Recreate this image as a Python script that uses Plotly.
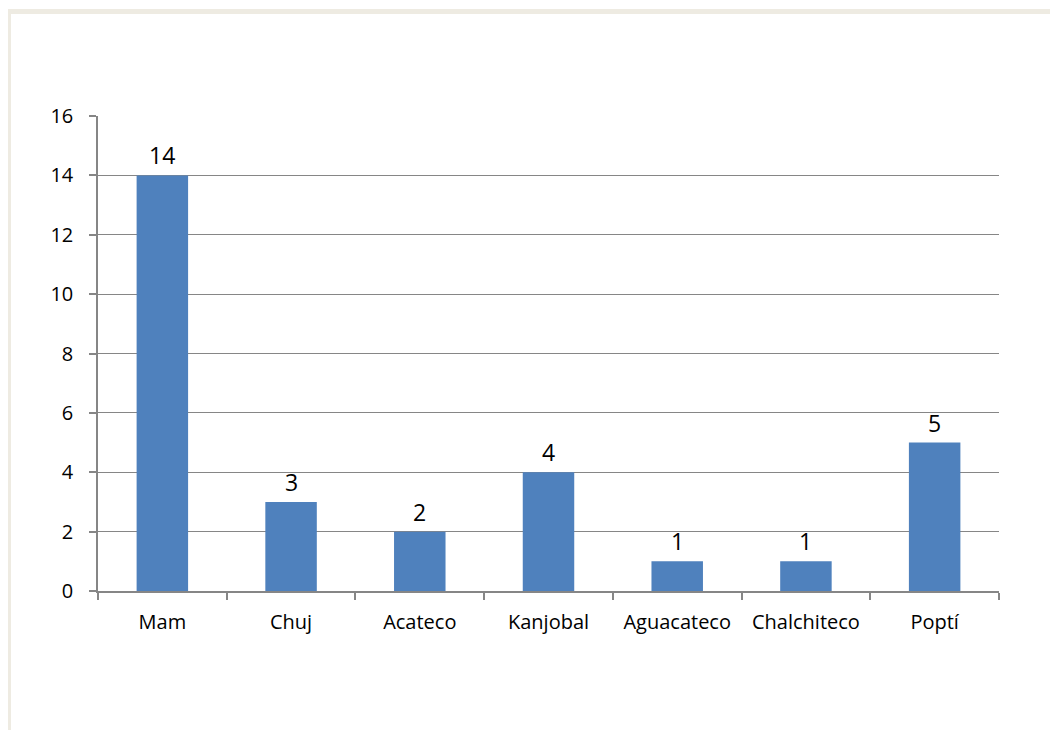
import plotly.graph_objects as go

categories = ["Mam", "Chuj", "Acateco", "Kanjobal", "Aguacateco", "Chalchiteco", "Poptí"]
values = [14, 3, 2, 4, 1, 1, 5]
y_ticks = [0, 2, 4, 6, 8, 10, 12, 14, 16]

# page body has an 8px margin, so the figure starts at (8, 8) on screen
OFF = 8
W, H = 1058 - OFF, 730 - OFF
L, T = 98 - OFF, 116 - OFF
R = W - (999 - OFF)
B = H - (591 - OFF)
pw, ph = W - L - R, H - T - B

def px_x(p):
    return (p - OFF - L) / pw

def px_y(p):
    return (H - B - (p - OFF)) / ph

FONT = "Open Sans"

fig = go.Figure(go.Bar(
    x=categories, y=values, width=0.4,
    marker=dict(color="#4F81BD", line=dict(width=0)),
    cliponaxis=False,
))

annotations = [
    dict(x=c, y=v, xref="x", yref="y", text=str(v), showarrow=False,
         yanchor="bottom", yshift=2, font=dict(family=FONT, size=23, color="#000000"))
    for c, v in zip(categories, values)
]

fig.update_layout(
    width=W, height=H,
    margin=dict(l=L, r=R, t=T, b=B),
    paper_bgcolor="white", plot_bgcolor="white",
    font=dict(family=FONT, size=20, color="#000000"),
    showlegend=False,
    annotations=annotations,
    shapes=[dict(type="rect", xref="paper", yref="paper",
                 x0=px_x(8.5), x1=px_x(1080), y0=px_y(11.5), y1=px_y(760),
                 line=dict(color="#EEEBE2", width=5), fillcolor="rgba(0,0,0,0)", layer="below")],
)
fig.update_xaxes(
    type="category", showline=True, linecolor="#868686", linewidth=1.5,
    ticks="outside", tickson="boundaries", ticklen=7, tickcolor="#868686", tickwidth=1.5,
    showgrid=False, tickfont=dict(size=20), ticklabelstandoff=12,
)
fig.update_yaxes(
    range=[0, 16], tickvals=y_ticks, showline=True, linecolor="#868686", linewidth=1.5,
    ticks="outside", ticklen=7, tickcolor="#868686", tickwidth=1.5,
    showgrid=True, gridcolor="#868686", gridwidth=1.3, zeroline=False,
    tickfont=dict(size=20), ticklabelstandoff=12,
)
fig.write_html("out.html")
